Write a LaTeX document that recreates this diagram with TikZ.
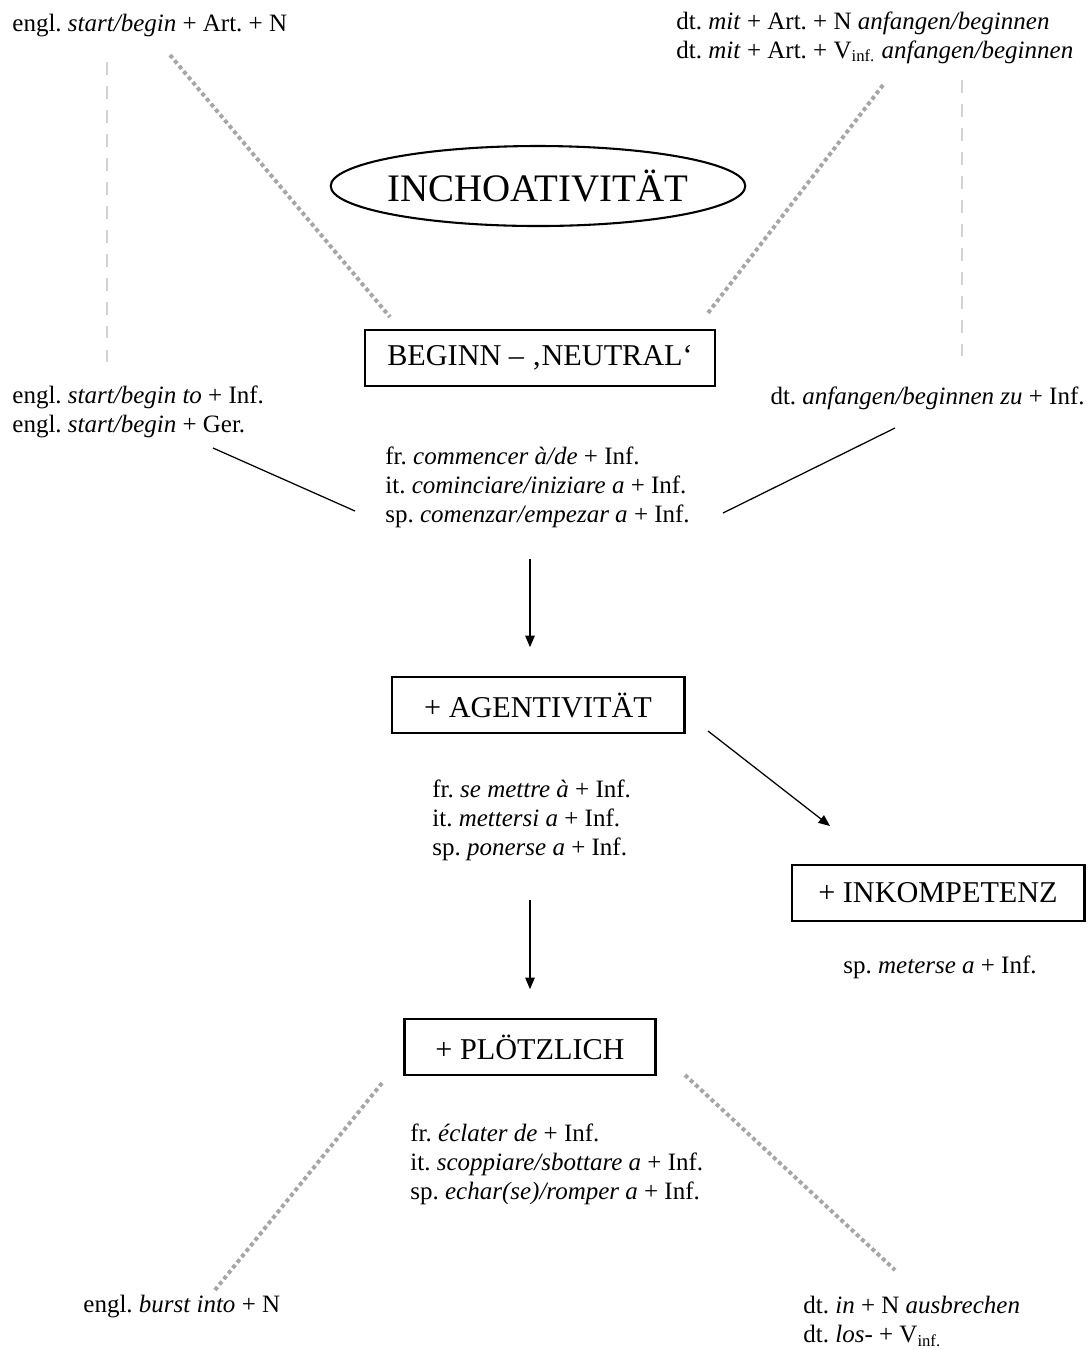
\documentclass[tikz,border=0pt]{standalone}
\usepackage{fontspec}
\setmainfont{Liberation Serif}
\usetikzlibrary{arrows.meta,positioning,shapes.geometric}
\frenchspacing
\tikzset{
  lbl/.style={inner sep=0pt,align=left,font=\fontsize{12}{13.9}\selectfont},
  catbox/.style={draw,line width=1pt,minimum height=26.5pt,inner sep=0pt,
                 font=\fontsize{14.5}{17}\selectfont},
  topnode/.style={draw,ellipse,line width=1pt,minimum width=199pt,minimum height=38.4pt,
                  inner xsep=-2pt,inner ysep=0pt,font=\fontsize{18.7}{22}\selectfont},
  arr/.style={-{Triangle[length=5.5pt,width=4.5pt]},line width=0.6pt},
  link/.style={line width=0.6pt},
  dotline/.style={draw=gray!70,line width=1.9pt,dash pattern=on 1.9pt off 1.5pt},
  dashline/.style={draw=gray!35,line width=1.4pt,dash pattern=on 6.2pt off 5.3pt},
}
\begin{document}
\begin{tikzpicture}[x=0.48pt,y=-0.48pt]
\useasboundingbox (0,0) rectangle (1092,1349);
% --- top: inchoativity and neutral begin ---
\node[topnode] (inch) at (538,186) {INCHOATIVITÄT};
\node[catbox,minimum width=168pt] (neutral) at (540,358) {BEGINN – ‚NEUTRAL‘};
\node[lbl,anchor=west] (engart) at (12,26) {engl. \textit{start/begin} + Art. + N};
\node[lbl,anchor=west] (dtmit) at (676,37.5)
 {dt. \textit{mit} + Art. + N \textit{anfangen/beginnen}\\
  dt. \textit{mit} + Art. + V\textsubscript{inf.} \textit{anfangen/beginnen}};
\node[lbl,anchor=west] (enginf) at (12,411.5)
 {engl. \textit{start/begin to} + Inf.\\
  engl. \textit{start/begin} + Ger.};
\node[lbl,anchor=east] (dtzu) at (1085,398) {dt. \textit{anfangen/beginnen zu} + Inf.};
\node[lbl,anchor=west] (roman1) at (385,487)
 {fr. \textit{commencer à/de} + Inf.\\
  it. \textit{cominciare/iniziare a} + Inf.\\
  sp. \textit{comenzar/empezar a} + Inf.};
% --- agentivity ---
\node[catbox,minimum width=140.6pt] (agent) at (538,705) {+ AGENTIVITÄT};
\node[lbl,anchor=west] (roman2) at (432,820)
 {fr. \textit{se mettre à} + Inf.\\
  it. \textit{mettersi a} + Inf.\\
  sp. \textit{ponerse a} + Inf.};
\node[catbox,minimum width=140.6pt] (inkomp) at (938,893) {+ INKOMPETENZ};
\node[lbl,anchor=west] (spmet) at (843,967) {sp. \textit{meterse a} + Inf.};
% --- suddenness ---
\node[catbox,minimum width=120.5pt] (ploetz) at (530,1047) {+ PLÖTZLICH};
\node[lbl,anchor=west] (roman3) at (410,1164)
 {fr. \textit{éclater de} + Inf.\\
  it. \textit{scoppiare/sbottare a} + Inf.\\
  sp. \textit{echar(se)/romper a} + Inf.};
\node[lbl,anchor=west] (engburst) at (83,1307) {engl. \textit{burst into} + N};
\node[lbl,anchor=west] (dtaus) at (803,1321.5)
 {dt. \textit{in} + N \textit{ausbrechen}\\
  dt. \textit{los-} + V\textsubscript{inf.}};
% line ends
\coordinate (dl1a) at (107,62);   \coordinate (dl1b) at (107,362);
\coordinate (dl2a) at (962,80);   \coordinate (dl2b) at (962,362);
\coordinate (dt1a) at (170,55);   \coordinate (dt1b) at (390,317);
\coordinate (dt2a) at (883,85);   \coordinate (dt2b) at (708,313);
\coordinate (dt3a) at (382,1083); \coordinate (dt3b) at (215,1290);
\coordinate (dt4a) at (685,1075); \coordinate (dt4b) at (895,1270);
\coordinate (ln1a) at (213,448);  \coordinate (ln1b) at (355,511);
\coordinate (ln2a) at (895,428);  \coordinate (ln2b) at (723,513);
\coordinate (ar3a) at (708,731);  \coordinate (ar3b) at (830,826);
% dashed and dotted lines
\draw[dashline] (dl1a) -- (dl1b);
\draw[dashline] (dl2a) -- (dl2b);
\draw[dotline] (dt1a) -- (dt1b);
\draw[dotline] (dt2a) -- (dt2b);
\draw[dotline] (dt3a) -- (dt3b);
\draw[dotline] (dt4a) -- (dt4b);
% solid links
\draw[link] (ln1a) -- (ln1b);
\draw[link] (ln2a) -- (ln2b);
% arrows
\draw[arr,shorten <=15pt,shorten >=14pt] (roman1.south -| ploetz) -- (agent.north -| ploetz);
\draw[arr,shorten <=18.7pt,shorten >=14pt] (roman2.south -| ploetz) -- (ploetz.north);
\draw[arr] (ar3a) -- (ar3b);
\end{tikzpicture}
\end{document}
